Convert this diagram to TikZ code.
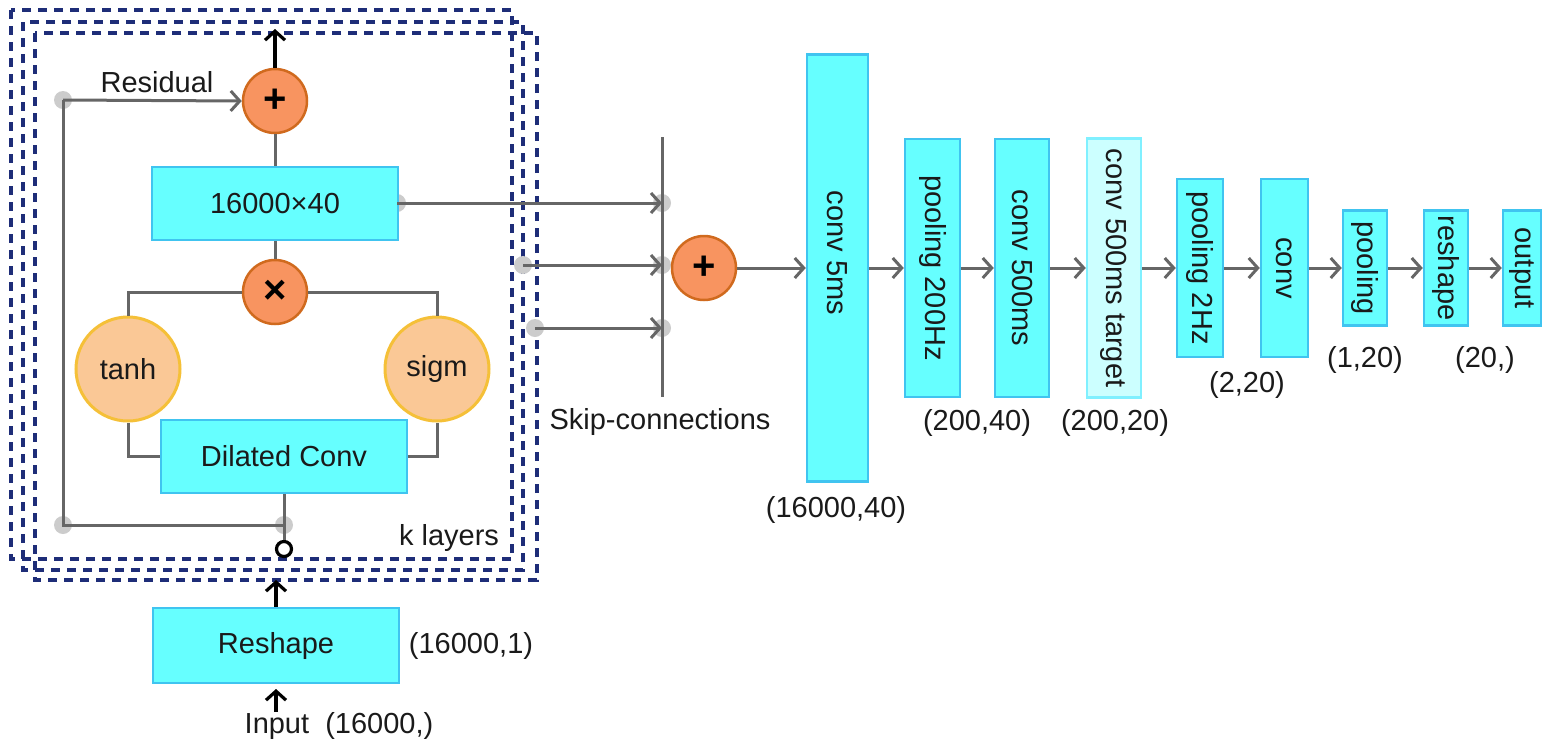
\documentclass[tikz,border=0pt]{standalone}
\usepackage{fontspec}
\setmainfont{Liberation Sans}
\usetikzlibrary{arrows.meta}
\definecolor{lineg}{HTML}{666666}
\definecolor{dotg}{HTML}{CCCCCC}
\definecolor{cyanf}{HTML}{66FFFF}
\definecolor{cyanb}{HTML}{40C4F0}
\definecolor{tgtf}{HTML}{CCFFFF}
\definecolor{tgtb}{HTML}{80F0FF}
\definecolor{orf}{HTML}{F89460}
\definecolor{orb}{HTML}{D06A1E}
\definecolor{actf}{HTML}{FAC896}
\definecolor{actb}{HTML}{F5C038}
\definecolor{navy}{HTML}{1E2D78}
\definecolor{txt}{HTML}{1A1A1A}
\begin{document}
\begin{tikzpicture}[x=1pt,y=-1pt,
  every node/.style={font=\fontsize{29}{34}\selectfont, text=txt},
  box/.style={draw=cyanb, fill=cyanf, line width=2.5pt, inner sep=0pt},
  tgt/.style={draw=tgtb, fill=tgtf, line width=2.5pt, inner sep=0pt},
  gate/.style={circle, draw=orb, fill=orf, line width=2.5pt, minimum size=64pt, inner sep=0pt, font=\fontsize{40}{40}\selectfont\bfseries, text=black},
  act/.style={circle, draw=actb, fill=actf, line width=3pt, minimum size=104pt, inner sep=0pt},
  conn/.style={draw=lineg, line width=3pt},
  arr/.style={conn, -{Straight Barb[length=9pt,width=20pt]}},
  blk/.style={draw=black, line width=3.2pt, -{Straight Barb[length=9pt,width=20pt]}},
  gdot/.style={circle, fill=dotg, minimum size=18pt, inner sep=0pt},
  kbox/.style={draw=navy, line width=3.4pt, dash pattern=on 9pt off 7pt},
  ring/.style={circle, draw=black, line width=3.2pt, fill=white, minimum size=15pt, inner sep=0pt}]
\useasboundingbox (0,0) rectangle (1543,740);

% dashed k-layer boxes
\draw[kbox] (11,10) rectangle (512,559);
\draw[kbox] (23,22) rectangle (523,570);
\draw[kbox] (35,33) rectangle (537,580);

% gray dots
\node[gdot] (rTop) at (63,100) {};
\node[gdot] (rBot) at (63,525) {};
\node[gdot] (dBot) at (284,525) {};
\node[gdot] (bOut) at (397,203) {};
\node[gdot] (s2) at (523,265) {};
\node[gdot] (s3) at (535,328) {};
\node[gdot] (k1) at (662,203) {};
\node[gdot] (k2) at (662,265) {};
\node[gdot] (k3) at (662,328) {};

% residual block
\node[gate] (addTop) at (275,101) {+};
\node[box, minimum width=246pt, minimum height=73pt] (b16) at (275,203.5) {16000×40};
\node[gate] (mult) at (275,292) {×};
\node[act] (tanh) at (128,369) {tanh};
\node[act] (sigm) at (437,369) {sigm};
\node[box, minimum width=246pt, minimum height=73pt] (dconv) at (284,456.5) {Dilated Conv};
\node[ring] (ring) at (284,549) {};
\node (res) at (157,82) {Residual};
\node (kl) at (449,538) {k layers};
\coordinate (topEnd) at (275,29);

\draw[blk] (addTop.north) -- (topEnd);
\draw[conn] (b16.north) -- (addTop.south);
\draw[conn] (b16.south) -- (mult.north);
\draw[conn] (mult.west) -| (tanh.north);
\draw[conn] (mult.east) -| (sigm.north);
\draw[conn] (tanh.south) |- (dconv.west);
\draw[conn] (sigm.south) |- (dconv.east);
\draw[conn] (dconv.south) -- (dBot.center) -- (ring.north);
\draw[conn] (rTop.center) -- (rBot.center) -- (dBot.center);
\draw[arr] (rTop.center) -- (addTop.west);

% reshape / input
\node[box, minimum width=246pt, minimum height=75pt] (resh) at (276,645.5) {Reshape};
\node (rshape) at (471,646) {(16000,1)};
\node (inp) at (339,726) {Input~~(16000,)};
\coordinate (inTail) at (276,712);
\coordinate (inHead) at (276,689);
\coordinate (reshHead) at (276,580);
\draw[blk] (resh.north) -- (reshHead);
\draw[blk] (inTail) -- (inHead);

% skip connections
\coordinate (skTop) at (662,137);
\coordinate (skBot) at (662,397);
\draw[conn] (skTop) -- (skBot);
\node (skl) at (660,422) {Skip-connections};
\draw[arr] (bOut.center) -- (k1.center);
\draw[arr] (s2.center) -- (k2.center);
\draw[arr] (s3.center) -- (k3.center);
\node[gate] (addSkip) at (704,268) {+};

% pipeline
\node[box, minimum width=61pt, minimum height=427pt] (c5) at (837.5,268) {\rotatebox{-90}{conv 5ms\hspace*{30pt}}};
\node[box, minimum width=55pt, minimum height=258pt] (p200) at (932.5,268) {\rotatebox{-90}{pooling 200Hz}};
\node[box, minimum width=54pt, minimum height=258pt] (c500) at (1022,268) {\rotatebox{-90}{conv 500ms}};
\node[tgt, minimum width=54pt, minimum height=259pt] (tg) at (1114,268) {\rotatebox{-90}{conv 500ms target}};
\node[box, minimum width=46pt, minimum height=178pt] (p2) at (1200,268) {\rotatebox{-90}{pooling 2Hz}};
\node[box, minimum width=47pt, minimum height=178pt] (cv) at (1284.5,268) {\rotatebox{-90}{conv}};
\node[box, minimum width=44pt, minimum height=115pt] (pl) at (1365,268) {\rotatebox{-90}{pooling}};
\node[box, minimum width=44pt, minimum height=115pt] (rs) at (1446,268) {\rotatebox{-90}{reshape}};
\node[box, minimum width=38pt, minimum height=115pt] (out) at (1522,268) {\rotatebox{-90}{output}};

\draw[arr] (addSkip.east) -- (c5.west);
\draw[arr] (c5.east) -- (p200.west);
\draw[arr] (p200.east) -- (c500.west);
\draw[arr] (c500.east) -- (tg.west);
\draw[arr] (tg.east) -- (p2.west);
\draw[arr] (p2.east) -- (cv.west);
\draw[arr] (cv.east) -- (pl.west);
\draw[arr] (pl.east) -- (rs.west);
\draw[arr] (rs.east) -- (out.west);

% shape labels
\node (l1) at (836,510) {(16000,40)};
\node (l2) at (977,423) {(200,40)};
\node (l3) at (1115,423) {(200,20)};
\node (l4) at (1247,385) {(2,20)};
\node (l5) at (1365,360) {(1,20)};
\node (l6) at (1485,360) {(20,)};
\end{tikzpicture}
\end{document}
